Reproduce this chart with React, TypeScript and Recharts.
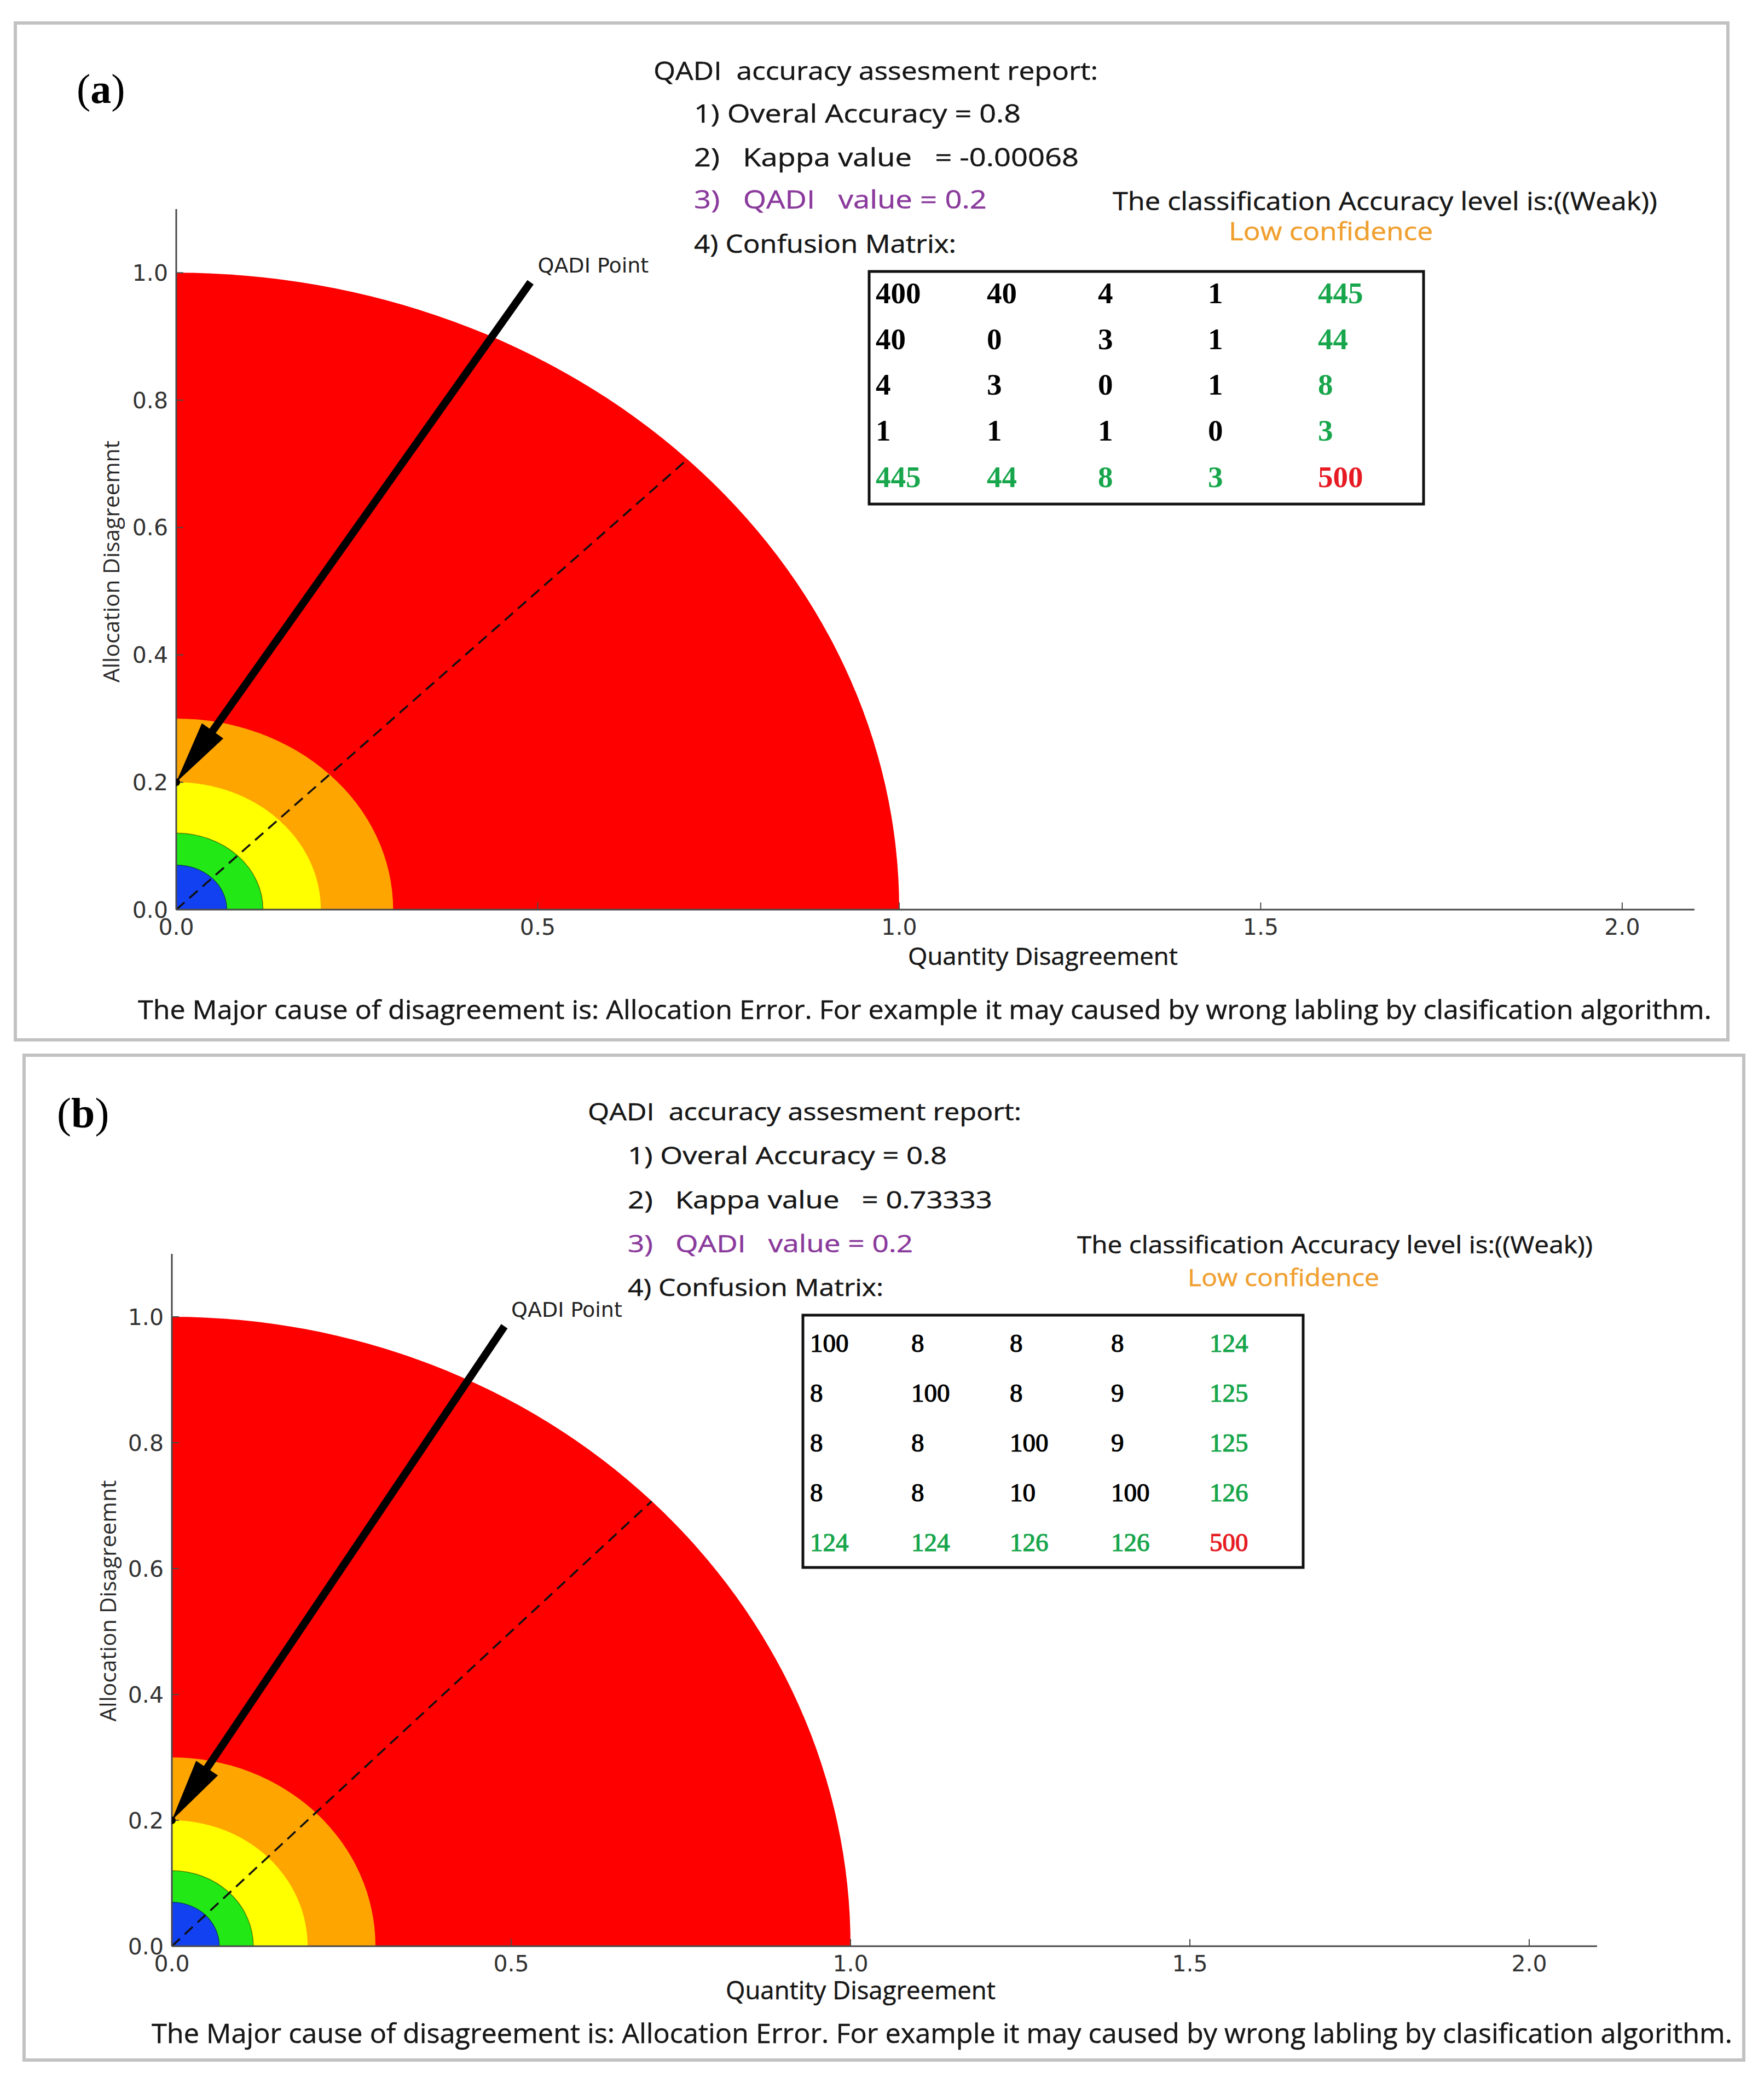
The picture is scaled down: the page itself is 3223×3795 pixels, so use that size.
import React from 'react'
import { ComposedChart, XAxis, YAxis, ReferenceArea, ReferenceLine, ReferenceDot, Scatter } from 'recharts'

// accuracy zones (quarter rings round the origin), drawn largest first
const ZONE_RADII = [1.0, 0.3, 0.2, 0.12, 0.07]
const ZONE_COLOURS = ['#fe0000', '#ffa500', '#ffff00', '#22e916', '#1241f2']
const X_TICKS = [0, 0.5, 1.0, 1.5, 2.0]
const Y_TICKS = [0, 0.2, 0.4, 0.6, 0.8, 1.0]
const X_DOMAIN = [0, 2.1]
const Y_DOMAIN = [0, 1.1]
const QADI_POINT = [{ quantity: 0, allocation: 0.2 }]
const ARROW_START = { quantity: 0.49, allocation: 0.985 }
const LABEL_ANCHOR = { quantity: 0.5, allocation: 1.0 }
const DIAGONAL_END = { quantity: 0.707, allocation: 0.707 }

const REPORT_TITLE = 'QADI  accuracy assesment report:'
const REPORT_A = ['1) Overal Accuracy = 0.8', '2)   Kappa value   = -0.00068', '3)   QADI   value = 0.2', '4) Confusion Matrix:']
const REPORT_B = ['1) Overal Accuracy = 0.8', '2)   Kappa value   = 0.73333', '3)   QADI   value = 0.2', '4) Confusion Matrix:']
const LEVEL_TEXT = 'The classification Accuracy level is:((Weak))'
const CONFIDENCE_TEXT = 'Low confidence'
const CAUSE_TEXT = 'The Major cause of disagreement is: Allocation Error. For example it may caused by wrong labling by clasification algorithm.'
const MATRIX_A = [
  [400, 40, 4, 1, 445],
  [40, 0, 3, 1, 44],
  [4, 3, 0, 1, 8],
  [1, 1, 1, 0, 3],
  [445, 44, 8, 3, 500],
]
const MATRIX_B = [
  [100, 8, 8, 8, 124],
  [8, 100, 8, 9, 125],
  [8, 8, 100, 9, 125],
  [8, 8, 10, 100, 126],
  [124, 124, 126, 126, 500],
]

const INK = '#161616'
const GREEN = '#17a64b'

const quarterRing = (fill: string, edge: boolean) => (p: any) => {
  const { x, y, width, height } = p
  const d = `M${x},${y + height} L${x},${y} A${width},${height} 0 0 1 ${x + width},${y + height} Z`
  return <path d={d} fill={fill} stroke={edge ? 'rgba(0,0,0,0.45)' : 'none'} strokeWidth={1.5} />
}

const ArrowShape = (p: any) => {
  const { x1, y1, x2, y2 } = p
  const len = Math.hypot(x2 - x1, y2 - y1)
  const ux = (x2 - x1) / len, uy = (y2 - y1) / len
  const bx = x2 - ux * 115, by = y2 - uy * 115
  const hw = 24
  return (
    <g>
      <line x1={x1} y1={y1} x2={bx + ux * 4} y2={by + uy * 4} stroke="#000" strokeWidth={14} />
      <polygon points={`${x2},${y2} ${bx - uy * hw},${by + ux * hw} ${bx + uy * hw},${by - ux * hw}`} fill="#000" />
    </g>
  )
}

const PointLabel = (p: any) => (
  <text x={p.cx} y={p.cy} fontSize={38} fontFamily="DejaVu Sans" fill="#222">QADI Point</text>
)

const PointDot = (p: any) => <circle cx={p.cx} cy={p.cy} r={7} fill="#000" />

function QadiChart({ top, height, margin }: any) {
  const tickStyle = { fill: '#333', fontSize: 41, fontFamily: 'DejaVu Sans' }
  return (
    <div style={{ position: 'absolute', left: 0, top }}>
      <ComposedChart width={3223} height={height} data={QADI_POINT} margin={margin}>
        {ZONE_RADII.map((r, i) => (
          <ReferenceArea key={r} x1={0} x2={r} y1={0} y2={r} shape={quarterRing(ZONE_COLOURS[i], i >= 3)} />
        ))}
        <ReferenceLine
          segment={[{ x: 0, y: 0 }, { x: DIAGONAL_END.quantity, y: DIAGONAL_END.allocation }]}
          stroke="#111" strokeWidth={3.5} strokeDasharray="20 12"
        />
        <ReferenceLine
          segment={[
            { x: ARROW_START.quantity, y: ARROW_START.allocation },
            { x: QADI_POINT[0].quantity, y: QADI_POINT[0].allocation },
          ]}
          shape={ArrowShape}
        />
        <ReferenceDot x={LABEL_ANCHOR.quantity} y={LABEL_ANCHOR.allocation} r={1} shape={PointLabel} />
        <Scatter dataKey="allocation" isAnimationActive={false} shape={PointDot} />
        <XAxis
          type="number" dataKey="quantity" domain={X_DOMAIN} ticks={X_TICKS} allowDataOverflow interval={0}
          height={60} tickSize={-13} tickMargin={30} tickFormatter={(v: number) => v.toFixed(1)}
          axisLine={{ stroke: '#4a4a4a', strokeWidth: 3 }} tickLine={{ stroke: '#4a4a4a', strokeWidth: 2 }}
          tick={tickStyle}
        />
        <YAxis
          type="number" dataKey="allocation" domain={Y_DOMAIN} ticks={Y_TICKS} allowDataOverflow interval={0}
          width={100} tickSize={-13} tickMargin={28} tickFormatter={(v: number) => v.toFixed(1)}
          axisLine={{ stroke: '#4a4a4a', strokeWidth: 3 }} tickLine={{ stroke: '#4a4a4a', strokeWidth: 2 }}
          tick={tickStyle}
        />
      </ComposedChart>
    </div>
  )
}

const Txt = ({ x, y, size, len, fill = INK, family = 'Open Sans', weight = 'normal', children }: any) => (
  <text
    x={x} y={y} fontSize={size} fontFamily={family} fontWeight={weight} fill={fill}
    stroke={fill} strokeWidth={0.5}
    textLength={len} lengthAdjust="spacingAndGlyphs" style={{ whiteSpace: 'pre' }}
  >{children}</text>
)

function Overlay({ L, tag, report, matrix }: any) {
  const cellColour = (r: number, c: number) =>
    r === 4 && c === 4 ? '#e61b23' : r === 4 || c === 4 ? GREEN : '#000'
  return (
    <g>
      <rect x={L.border[0]} y={L.border[1]} width={L.border[2] - L.border[0]} height={L.border[3] - L.border[1]}
        fill="none" stroke="#c2c2c2" strokeWidth={6} />
      <text x={L.tag[0]} y={L.tag[1]} fontSize={L.tag[2]} fontFamily="Liberation Serif" fill="#000">
        (<tspan fontWeight="bold">{tag}</tspan>)
      </text>
      <Txt x={L.title[0]} y={L.title[1]} size={L.fs} len={L.title[2]}>{REPORT_TITLE}</Txt>
      {report.map((s: string, i: number) => (
        <Txt key={i} x={L.repX} y={L.repY[i]} size={L.fs} len={L.repLen[i]} fill={i === 2 ? '#8a3a9c' : INK}>{s}</Txt>
      ))}
      <Txt x={L.level[0]} y={L.level[1]} size={L.fs} len={L.level[2]}>{LEVEL_TEXT}</Txt>
      <Txt x={L.conf[0]} y={L.conf[1]} size={L.fs} len={L.conf[2]} fill="#f0a030">{CONFIDENCE_TEXT}</Txt>
      <rect x={L.box[0]} y={L.box[1]} width={L.box[2]} height={L.box[3]} fill="none" stroke="#111" strokeWidth={5} />
      {matrix.map((row: number[], r: number) =>
        row.map((v, c) => (
          <text key={`${r}-${c}`} x={L.cols[c]} y={L.rows[r]} fontSize={L.cellFs} fontFamily="Liberation Serif"
            fontWeight={L.cellBold ? 'bold' : 'normal'} fill={cellColour(r, c)}
            stroke={cellColour(r, c)} strokeWidth={L.cellBold ? 0 : 1.2}>{v}</text>
        ))
      )}
      <text x={L.ylab[0]} y={L.ylab[1]} fontSize={41} fontFamily="Open Sans" fill="#2a2a2a" textAnchor="middle"
        textLength={L.ylab[2]} lengthAdjust="spacingAndGlyphs"
        transform={`rotate(-90 ${L.ylab[0]} ${L.ylab[1]})`}>Allocation Disagreemnt</text>
      <Txt x={L.xlab[0]} y={L.xlab[1]} size={L.xlab[3]} len={L.xlab[2]}>Quantity Disagreement</Txt>
      <Txt x={L.cause[0]} y={L.cause[1]} size={L.cause[3]} len={L.cause[2]}>{CAUSE_TEXT}</Txt>
    </g>
  )
}

const LAYOUT_A = {
  border: [28, 42, 3157, 1900],
  tag: [140, 188, 76],
  fs: 45,
  title: [1194, 146, 812],
  repX: 1268, repY: [224, 304, 381, 462], repLen: [597, 703, 535, 479],
  level: [2033, 384, 995],
  conf: [2245, 439, 373],
  box: [1588, 496, 1013, 425],
  cols: [1600, 1803, 2006, 2207, 2408], rows: [554, 638, 721, 805, 890], cellFs: 55, cellBold: true,
  ylab: [218, 1026, 442],
  xlab: [1659, 1763, 493, 44],
  cause: [252, 1862, 2875, 47],
}

const LAYOUT_B = {
  border: [44, 1928, 3186, 3764],
  tag: [104, 2060, 78],
  fs: 43,
  title: [1074, 2047, 792],
  repX: 1147, repY: [2127, 2208, 2288, 2368], repLen: [583, 666, 521, 467],
  level: [1968, 2290, 942],
  conf: [2170, 2350, 350],
  box: [1467, 2403, 914, 461],
  cols: [1480, 1665, 1845, 2030, 2210], rows: [2470, 2561, 2652, 2743, 2834], cellFs: 47, cellBold: false,
  ylab: [212, 2925, 441],
  xlab: [1326, 3653, 493, 45],
  cause: [277, 3733, 2888, 50],
}

export default function App() {
  return (
    <div style={{ position: 'absolute', left: 0, top: 0, width: 3223, height: 3795, background: '#fff' }}>
      <QadiChart top={0} height={1920} margin={{ top: 382, right: 127, bottom: 198, left: 222 }} />
      <QadiChart top={1920} height={1875} margin={{ top: 371, right: 305, bottom: 179, left: 214 }} />
      <svg width={3223} height={3795} style={{ position: 'absolute', left: 0, top: 0, pointerEvents: 'none' }}>
        <Overlay L={LAYOUT_A} tag="a" report={REPORT_A} matrix={MATRIX_A} />
        <Overlay L={LAYOUT_B} tag="b" report={REPORT_B} matrix={MATRIX_B} />
      </svg>
    </div>
  )
}
